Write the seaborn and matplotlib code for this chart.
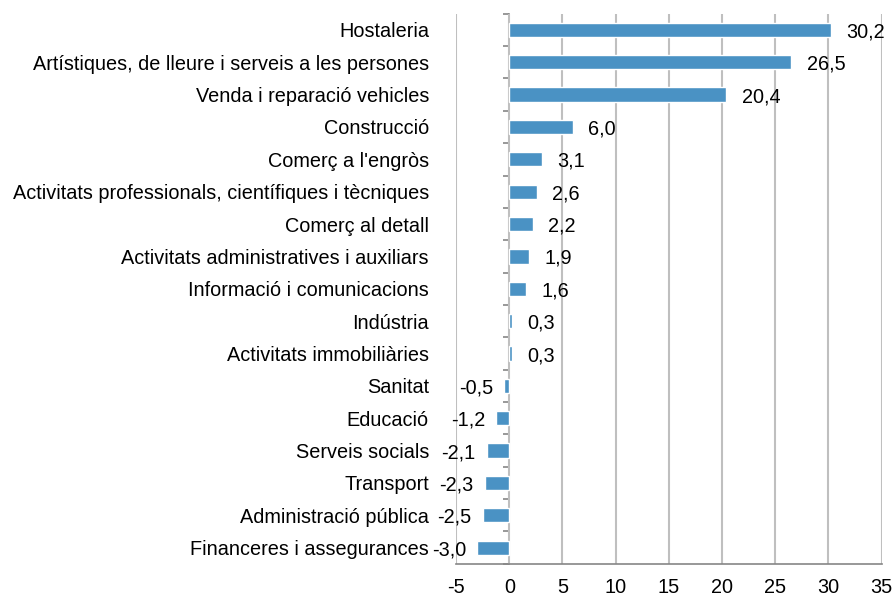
import matplotlib
matplotlib.use("Agg")
import matplotlib.pyplot as plt
import seaborn as sns
import pandas as pd

# ======================================
#           DATA
# ======================================
sectors = [
    "Hostaleria",
    "Artístiques, de lleure i serveis a les persones",
    "Venda i reparació vehicles",
    "Construcció",
    "Comerç a l'engròs",
    "Activitats professionals, científiques i tècniques",
    "Comerç al detall",
    "Activitats administratives i auxiliars",
    "Informació i comunicacions",
    "Indústria",
    "Activitats immobiliàries",
    "Sanitat",
    "Educació",
    "Serveis socials",
    "Transport",
    "Administració pública",
    "Financeres i assegurances",
]
values = [30.2, 26.5, 20.4, 6.0, 3.1, 2.6, 2.2, 1.9, 1.6, 0.3, 0.3,
          -0.5, -1.2, -2.1, -2.3, -2.5, -3.0]
x_ticks = [-5, 0, 5, 10, 15, 20, 25, 30, 35]

df = pd.DataFrame({"sector": sectors, "value": values})

# ======================================
#           STYLE
# ======================================
sns.set_style("white")
plt.rcParams["font.family"] = ["Liberation Sans", "DejaVu Sans"]
plt.rcParams["text.color"] = "black"
plt.rcParams["xtick.labelcolor"] = "black"
plt.rcParams["ytick.labelcolor"] = "black"
FS = 14.3
bar_color = "#4A92C4"
grid_color = "#BFBFBF"
axis_color = "#868686"

fig = plt.figure(figsize=(8.96, 5.96), dpi=100)
ax = fig.add_axes([0.509, 0.054, 0.475, 0.923])

sns.barplot(data=df, x="value", y="sector", orient="h", color=bar_color,
            saturation=1, width=0.44, ax=ax)

ax.set_xlim(-5, 35)
ax.set_ylim(len(sectors) - 0.5, -0.5)
ax.set_xticks(x_ticks)
ax.set_xticklabels([str(t) for t in x_ticks], fontsize=FS)
ax.xaxis.grid(True, color=grid_color, linewidth=1.5)
ax.set_axisbelow(True)
ax.set_xlabel("")
ax.set_ylabel("")

for s in ["top", "right", "left"]:
    ax.spines[s].set_visible(False)
ax.spines["bottom"].set_color(axis_color)
ax.spines["bottom"].set_linewidth(1.2)
ax.tick_params(axis="x", direction="out", length=5, color=axis_color,
               width=1.2, pad=5)
ax.tick_params(axis="y", length=0, pad=19.5, labelsize=FS)

# category axis drawn at zero
sec = ax.secondary_yaxis(0, transform=ax.transData)
sec.set_yticks([i + 0.5 for i in range(-1, len(sectors))])
sec.set_yticklabels([])
sec.spines["left"].set_color(axis_color)
sec.spines["left"].set_linewidth(1.2)
sec.tick_params(axis="y", direction="out", length=4, color=axis_color, width=1.2)

# value labels
for i, v in enumerate(values):
    txt = f"{v:.1f}".replace(".", ",")
    if v >= 0:
        ax.annotate(txt, (v, i), xytext=(11, -1.5), textcoords="offset points",
                    ha="left", va="center", fontsize=FS)
    else:
        ax.annotate(txt, (v, i), xytext=(-8, -1.5), textcoords="offset points",
                    ha="right", va="center", fontsize=FS)

fig.savefig("out.png", dpi=100)
